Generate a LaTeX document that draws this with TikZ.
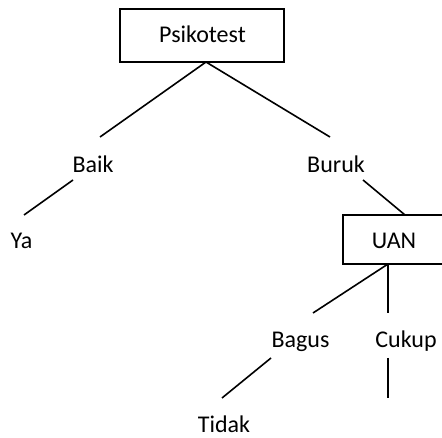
\documentclass[tikz,border=0pt]{standalone}
\usepackage{fontspec}
\setmainfont{Carlito}
\begin{document}
\begin{tikzpicture}[x=1pt,y=-1pt,
    label/.style={anchor=base,inner sep=0pt,font=\fontsize{24}{28}\selectfont},
    boxnode/.style={draw,line width=1.6pt,inner sep=0pt},
    branch/.style={line width=1.6pt}]
  \path[use as bounding box,clip] (0,0) rectangle (442,438);

  % decision boxes
  \node[boxnode,minimum width=164pt,minimum height=53pt] (psi) at (202,35.5) {};
  \node[label] (psiT) at (202.5,43) {Psikotest};
  \node[boxnode,minimum width=102pt,minimum height=49pt] (uan) at (394,239.5) {};
  \node[label] (uanT) at (394,249) {UAN};

  % outcome labels
  \node[label] (baik)  at (93,173)    {Baik};
  \node[label] (buruk) at (336,173)   {Buruk};
  \node[label] (ya)    at (21.5,249)  {Ya};
  \node[label] (bagus) at (300.5,348) {Bagus};
  \node[label] (cukup) at (406,348)   {Cukup};
  \node[label] (tidak) at (224,432)   {Tidak};

  % branch end points
  \coordinate (psiOut)  at (206,62);
  \coordinate (baikIn)  at (100,137);
  \coordinate (burukIn) at (330,137);
  \coordinate (baikOut) at (73,180);
  \coordinate (yaIn)    at (24,215);
  \coordinate (burukOut) at (363,180);
  \coordinate (uanIn)   at (405,215);
  \coordinate (uanOut)  at (388,264);
  \coordinate (bagusIn) at (313,313);
  \coordinate (cukupIn) at (388,313);
  \coordinate (bagusOut) at (271,358);
  \coordinate (tidakIn) at (222,398);
  \coordinate (cukupOut) at (388,358);
  \coordinate (cukupEnd) at (388,398);

  \draw[branch] (psiOut) -- (baikIn);
  \draw[branch] (psiOut) -- (burukIn);
  \draw[branch] (baikOut) -- (yaIn);
  \draw[branch] (burukOut) -- (uanIn);
  \draw[branch] (uanOut) -- (bagusIn);
  \draw[branch] (uanOut) -- (cukupIn);
  \draw[branch] (bagusOut) -- (tidakIn);
  \draw[branch] (cukupOut) -- (cukupEnd);
\end{tikzpicture}
\end{document}
